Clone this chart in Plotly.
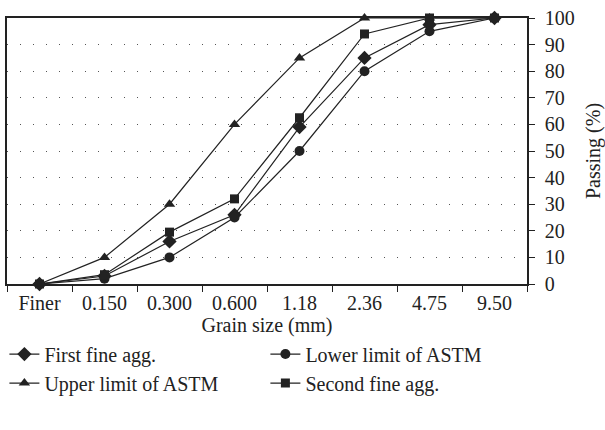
import plotly.graph_objects as go

categories = ["Finer", "0.150", "0.300", "0.600", "1.18", "2.36", "4.75", "9.50"]
first_fine = [0, 3, 16, 26, 59, 85, 97.5, 100]
lower_astm = [0, 2, 10, 25, 50, 80, 95, 100]
upper_astm = [0, 10, 30, 60, 85, 100, 100, 100]
second_fine = [0, 3.5, 19.5, 32, 62.5, 94, 100, 100]
y_ticks = [0, 10, 20, 30, 40, 50, 60, 70, 80, 90, 100]

FONT = "Liberation Serif"
INK = "#222222"

series = [
    ("First fine agg.", first_fine, "diamond", 11),
    ("Lower limit of ASTM", lower_astm, "circle", 10),
    ("Upper limit of ASTM", upper_astm, "triangle-up", 10),
    ("Second fine agg.", second_fine, "square", 9),
]

fig = go.Figure()
for name, vals, sym, sz in series:
    fig.add_trace(go.Scatter(
        x=categories, y=vals, name=name, mode="lines+markers",
        line=dict(color=INK, width=1.2),
        marker=dict(symbol=sym, size=sz, color=INK),
        cliponaxis=False,
    ))

fig.update_layout(
    width=605, height=430,
    margin=dict(l=7, r=78, t=18, b=146, autoexpand=False),
    paper_bgcolor="white", plot_bgcolor="white",
    font=dict(family=FONT, size=20, color=INK),
    showlegend=True,
    legend=dict(
        orientation="h", x=-0.005, xanchor="left", y=-0.19, yanchor="top",
        entrywidth=216, entrywidthmode="pixels",
        font=dict(family=FONT, size=20, color=INK),
        tracegroupgap=0, itemwidth=30,
    ),
    xaxis=dict(
        type="category", categoryorder="array", categoryarray=categories,
        range=[-0.5, 7.5], tickson="boundaries", automargin=False,
        ticks="outside", ticklen=6, tickcolor=INK, tickwidth=1,
        showline=True, linecolor=INK, linewidth=1.5, mirror=True,
        showgrid=False, zeroline=False,
        title=dict(text="Grain size (mm)", standoff=1, font=dict(size=20)),
        tickfont=dict(size=20),
    ),
    yaxis=dict(
        side="right", range=[0, 100], tickvals=y_ticks, automargin=False,
        ticks="outside", ticklen=6, tickcolor=INK, tickwidth=1,
        ticklabelstandoff=6,
        showline=True, linecolor=INK, linewidth=1.5, mirror=True,
        showgrid=True, gridcolor="#555555", gridwidth=1, griddash="1px,12px",
        zeroline=False,
        title=dict(text="Passing (%)", standoff=12, font=dict(size=20)),
        tickfont=dict(size=20),
    ),
)

fig.write_html(
    "out.html",
    config={"displayModeBar": False},
    post_script="document.body.style.margin='0';document.body.style.padding='0';",
)
